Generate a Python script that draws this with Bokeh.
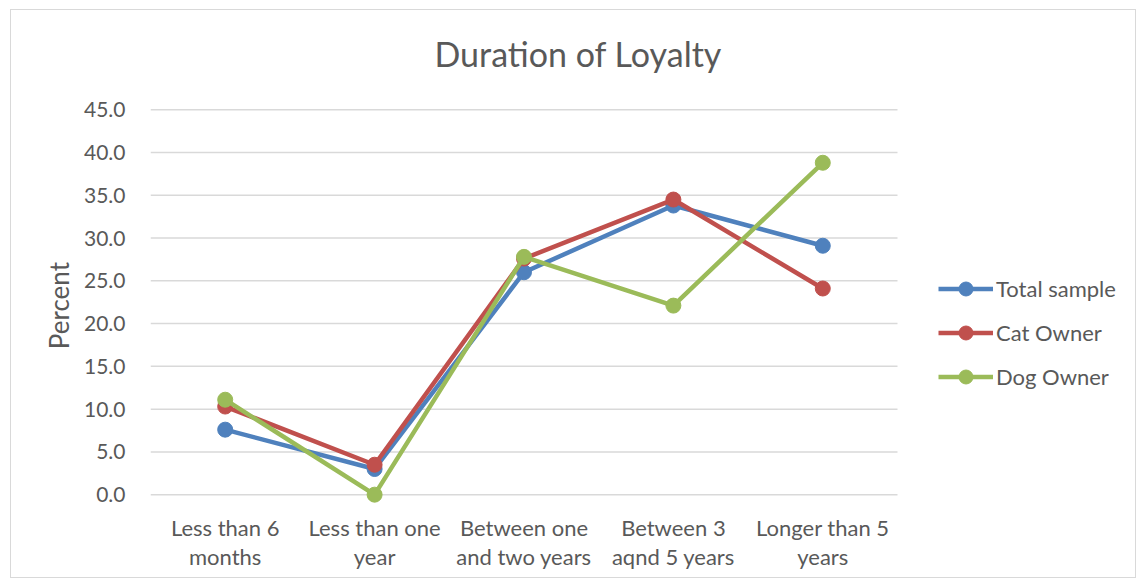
from bokeh.plotting import figure
from bokeh.models import (Range1d, FixedTicker, NumeralTickFormatter,
                          Legend, LegendItem, Label)
from bokeh.embed import file_html
from bokeh.resources import INLINE

categories = ["Less than 6\nmonths", "Less than one\nyear", "Between one\nand two years",
              "Between 3\naqnd 5 years", "Longer than 5\nyears"]
total_sample = [7.6, 3.0, 26.0, 33.8, 29.1]
cat_owner = [10.3, 3.5, 27.6, 34.5, 24.1]
dog_owner = [11.1, 0.0, 27.8, 22.1, 38.8]
series_names = ["Total sample", "Cat Owner", "Dog Owner"]
y_ticks = [0, 5, 10, 15, 20, 25, 30, 35, 40, 45]
title_text = "Duration of Loyalty"
y_label = "Percent"

colors = ["#4F81BD", "#C0504D", "#9BBB59"]
FONT = "Lato"
TXT = "#595959"

xs = [i + 0.5 for i in range(len(categories))]

p = figure(width=1126, height=569, output_backend="svg", toolbar_location=None,
           x_range=Range1d(0, 6.553), y_range=Range1d(-1.5, 56.6),
           min_border_left=139, min_border_right=8, min_border_top=0,
           min_border_bottom=72)
p.margin = (9, 0, 0, 10)
p.styles = {"border": "1px solid #D9D9D9"}
p.outline_line_color = None
p.background_fill_color = "white"
p.border_fill_color = "white"
p.xgrid.grid_line_color = None
p.ygrid.grid_line_color = None

# horizontal gridlines limited to the category area
p.segment(x0=[0] * len(y_ticks), x1=[len(categories)] * len(y_ticks),
          y0=y_ticks, y1=y_ticks, line_color="#D9D9D9", line_width=1.5)

p.yaxis.ticker = FixedTicker(ticks=y_ticks)
p.yaxis.formatter = NumeralTickFormatter(format="0.0")
p.yaxis.axis_line_color = None
p.yaxis.major_tick_line_color = None
p.yaxis.minor_tick_line_color = None
p.yaxis.major_label_standoff = 19
p.yaxis.major_label_text_font = FONT
p.yaxis.major_label_text_font_size = "21px"
p.yaxis.major_label_text_color = TXT
# trailing no-break spaces shift the rotated label down to the gridded area
p.yaxis.axis_label = y_label + "\u00a0" * 14
p.yaxis.axis_label_text_font = FONT
p.yaxis.axis_label_text_font_size = "26px"
p.yaxis.axis_label_text_font_style = "normal"
p.yaxis.axis_label_text_color = TXT
p.yaxis.axis_label_standoff = 6

p.xaxis.ticker = FixedTicker(ticks=xs)
p.xaxis.major_label_overrides = {x: c for x, c in zip(xs, categories)}
p.xaxis.axis_line_color = None
p.xaxis.major_tick_line_color = None
p.xaxis.minor_tick_line_color = None
p.xaxis.major_label_standoff = 0
p.xaxis.major_label_text_font = FONT
p.xaxis.major_label_text_font_size = "22px"
p.xaxis.major_label_text_color = TXT
p.xaxis.major_label_text_line_height = 1.1

items = []
for name, vals, c in zip(series_names, [total_sample, cat_owner, dog_owner], colors):
    l = p.line(xs, vals, line_color=c, line_width=4.5, line_join="round")
    s = p.scatter(xs, vals, size=15, fill_color=c, line_color=c)
    items.append(LegendItem(label=name, renderers=[l, s]))

legend = Legend(items=items, location=(788, 113), glyph_width=55, glyph_height=35,
                spacing=9, padding=0, margin=0, label_standoff=3,
                label_text_font=FONT, label_text_font_size="22px",
                label_text_color=TXT, border_line_color=None,
                background_fill_alpha=0)
p.add_layout(legend, "center")

title = Label(x=284, y=454, x_units="screen", y_units="screen", text=title_text,
              text_font=FONT, text_font_size="34px", text_color=TXT,
              text_align="left", text_baseline="middle")
p.add_layout(title)

open("out.html", "w").write(file_html(p, INLINE))
